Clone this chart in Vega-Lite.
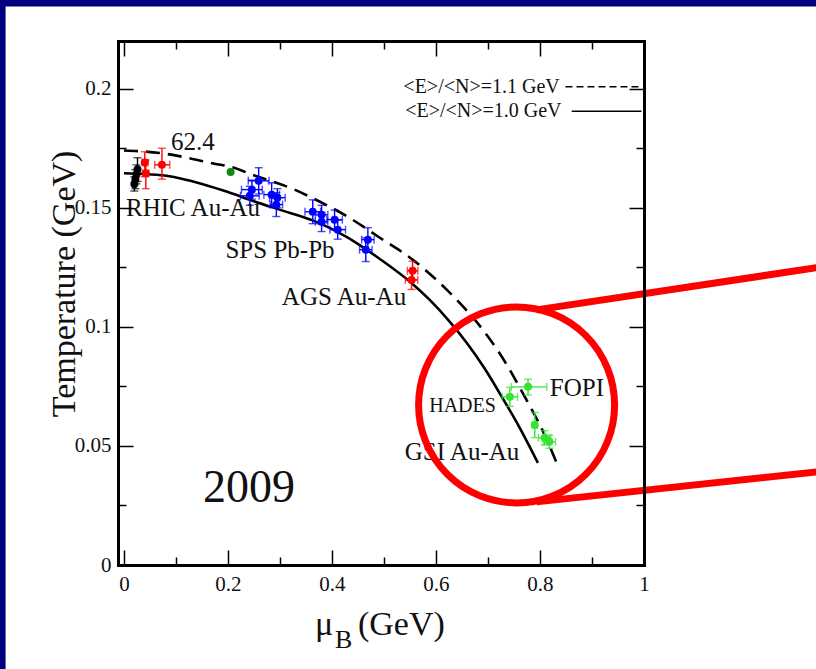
{
  "$schema": "https://vega.github.io/schema/vega-lite/v6.json",
  "width": 526,
  "height": 524,
  "autosize": {"type": "none"},
  "padding": {"left": 118, "top": 41, "right": 172, "bottom": 104},
  "background": "#000080",
  "config": {"view": {"stroke": null}, "font": "Liberation Serif", "text": {"font": "Liberation Serif", "color": "black"}},
  "resolve": {"axis": {"x": "independent", "y": "independent"}},
  "datasets": {
    "curves": [
      {"c": "1.0", "mu": 0.0, "T": 0.1645},
      {"c": "1.0", "mu": 0.04, "T": 0.1642},
      {"c": "1.0", "mu": 0.078, "T": 0.1635},
      {"c": "1.0", "mu": 0.111, "T": 0.1622},
      {"c": "1.0", "mu": 0.15, "T": 0.16},
      {"c": "1.0", "mu": 0.2, "T": 0.1566},
      {"c": "1.0", "mu": 0.25, "T": 0.1527},
      {"c": "1.0", "mu": 0.299, "T": 0.1492},
      {"c": "1.0", "mu": 0.363, "T": 0.1447},
      {"c": "1.0", "mu": 0.428, "T": 0.1378},
      {"c": "1.0", "mu": 0.492, "T": 0.1285},
      {"c": "1.0", "mu": 0.555, "T": 0.118},
      {"c": "1.0", "mu": 0.588, "T": 0.1113},
      {"c": "1.0", "mu": 0.625, "T": 0.1025},
      {"c": "1.0", "mu": 0.659, "T": 0.0933},
      {"c": "1.0", "mu": 0.692, "T": 0.083},
      {"c": "1.0", "mu": 0.722, "T": 0.0723},
      {"c": "1.0", "mu": 0.761, "T": 0.0576},
      {"c": "1.0", "mu": 0.796, "T": 0.0429},
      {"c": "1.1", "mu": 0.0, "T": 0.174},
      {"c": "1.1", "mu": 0.04, "T": 0.1736},
      {"c": "1.1", "mu": 0.078, "T": 0.1727},
      {"c": "1.1", "mu": 0.13, "T": 0.1706},
      {"c": "1.1", "mu": 0.174, "T": 0.1685},
      {"c": "1.1", "mu": 0.205, "T": 0.1672},
      {"c": "1.1", "mu": 0.251, "T": 0.1635},
      {"c": "1.1", "mu": 0.328, "T": 0.1576},
      {"c": "1.1", "mu": 0.363, "T": 0.154},
      {"c": "1.1", "mu": 0.428, "T": 0.1465},
      {"c": "1.1", "mu": 0.492, "T": 0.1374},
      {"c": "1.1", "mu": 0.555, "T": 0.1282},
      {"c": "1.1", "mu": 0.621, "T": 0.1155},
      {"c": "1.1", "mu": 0.64, "T": 0.1113},
      {"c": "1.1", "mu": 0.682, "T": 0.101},
      {"c": "1.1", "mu": 0.722, "T": 0.089},
      {"c": "1.1", "mu": 0.774, "T": 0.0693},
      {"c": "1.1", "mu": 0.809, "T": 0.0546},
      {"c": "1.1", "mu": 0.832, "T": 0.0429}
    ],
    "pts": [
      {"g": "black", "mu": 0.020, "T": 0.160, "xlo": 0.017, "xhi": 0.023, "ylo": 0.157, "yhi": 0.163},
      {"g": "black", "mu": 0.022, "T": 0.162, "xlo": 0.019, "xhi": 0.025, "ylo": 0.158, "yhi": 0.166},
      {"g": "black", "mu": 0.024, "T": 0.164, "xlo": 0.021, "xhi": 0.027, "ylo": 0.160, "yhi": 0.168},
      {"g": "black", "mu": 0.026, "T": 0.166, "xlo": 0.023, "xhi": 0.029, "ylo": 0.161, "yhi": 0.171},
      {"g": "red", "mu": 0.040, "T": 0.169, "xlo": 0.035, "xhi": 0.046, "ylo": 0.163, "yhi": 0.1735},
      {"g": "red", "mu": 0.042, "T": 0.1645, "xlo": 0.036, "xhi": 0.048, "ylo": 0.158, "yhi": 0.170},
      {"g": "red", "mu": 0.073, "T": 0.168, "xlo": 0.059, "xhi": 0.088, "ylo": 0.162, "yhi": 0.175},
      {"g": "dgreen", "mu": 0.205, "T": 0.165, "xlo": 0.205, "xhi": 0.205, "ylo": 0.165, "yhi": 0.165},
      {"g": "blue", "mu": 0.246, "T": 0.1576, "xlo": 0.226, "xhi": 0.266, "ylo": 0.1536, "yhi": 0.1616},
      {"g": "blue", "mu": 0.242, "T": 0.155, "xlo": 0.224, "xhi": 0.260, "ylo": 0.151, "yhi": 0.159},
      {"g": "blue", "mu": 0.259, "T": 0.1613, "xlo": 0.239, "xhi": 0.279, "ylo": 0.1558, "yhi": 0.1668},
      {"g": "blue", "mu": 0.284, "T": 0.1555, "xlo": 0.269, "xhi": 0.299, "ylo": 0.1505, "yhi": 0.1605},
      {"g": "blue", "mu": 0.295, "T": 0.1542, "xlo": 0.280, "xhi": 0.310, "ylo": 0.150, "yhi": 0.158},
      {"g": "blue", "mu": 0.293, "T": 0.1513, "xlo": 0.281, "xhi": 0.305, "ylo": 0.1463, "yhi": 0.1563},
      {"g": "blue", "mu": 0.363, "T": 0.1483, "xlo": 0.348, "xhi": 0.378, "ylo": 0.1433, "yhi": 0.1533},
      {"g": "blue", "mu": 0.380, "T": 0.147, "xlo": 0.368, "xhi": 0.392, "ylo": 0.143, "yhi": 0.151},
      {"g": "blue", "mu": 0.380, "T": 0.1441, "xlo": 0.368, "xhi": 0.392, "ylo": 0.140, "yhi": 0.148},
      {"g": "blue", "mu": 0.405, "T": 0.145, "xlo": 0.390, "xhi": 0.420, "ylo": 0.141, "yhi": 0.149},
      {"g": "blue", "mu": 0.411, "T": 0.1408, "xlo": 0.396, "xhi": 0.426, "ylo": 0.1368, "yhi": 0.1448},
      {"g": "blue", "mu": 0.469, "T": 0.1366, "xlo": 0.457, "xhi": 0.481, "ylo": 0.1316, "yhi": 0.1416},
      {"g": "blue", "mu": 0.465, "T": 0.1324, "xlo": 0.453, "xhi": 0.477, "ylo": 0.1274, "yhi": 0.1374},
      {"g": "red", "mu": 0.555, "T": 0.1235, "xlo": 0.545, "xhi": 0.565, "ylo": 0.1195, "yhi": 0.1275},
      {"g": "red", "mu": 0.553, "T": 0.1197, "xlo": 0.541, "xhi": 0.565, "ylo": 0.1157, "yhi": 0.1237},
      {"g": "green", "mu": 0.742, "T": 0.0706, "xlo": 0.727, "xhi": 0.757, "ylo": 0.0666, "yhi": 0.0746},
      {"g": "green", "mu": 0.777, "T": 0.0748, "xlo": 0.745, "xhi": 0.813, "ylo": 0.0714, "yhi": 0.078},
      {"g": "green", "mu": 0.790, "T": 0.0588, "xlo": 0.785, "xhi": 0.795, "ylo": 0.0535, "yhi": 0.064},
      {"g": "green", "mu": 0.809, "T": 0.0534, "xlo": 0.797, "xhi": 0.821, "ylo": 0.0504, "yhi": 0.0564},
      {"g": "green", "mu": 0.818, "T": 0.0517, "xlo": 0.806, "xhi": 0.830, "ylo": 0.049, "yhi": 0.0545}
    ],
    "labels": [
      {"t": "62.4", "mu": 0.1327, "T": 0.1778},
      {"t": "RHIC Au-Au", "mu": 0.1327, "T": 0.1499},
      {"t": "SPS Pb-Pb", "mu": 0.300, "T": 0.1323},
      {"t": "AGS Au-Au", "mu": 0.4231, "T": 0.1125},
      {"t": "FOPI", "mu": 0.871, "T": 0.0743},
      {"t": "GSI Au-Au", "mu": 0.650, "T": 0.0474}
    ],
    "legend": [
      {"t": "<E>/<N>=1.1 GeV", "mu": 0.838, "T": 0.2005},
      {"t": "<E>/<N>=1.0 GeV", "mu": 0.8415, "T": 0.1905}
    ]
  },
  "layer": [
    {
      "data": {"values": [{}]},
      "mark": {"type": "rect", "color": "white"},
      "encoding": {
        "x": {"datum": -0.2277, "type": "quantitative", "scale": {"domain": [-0.0115, 1], "nice": false, "zero": false}, "axis": null},
        "x2": {"datum": 1.36},
        "y": {"datum": 0.2345, "type": "quantitative", "scale": {"domain": [0, 0.22], "nice": false, "zero": false}, "axis": null},
        "y2": {"datum": -0.07}
      }
    },
    {
      "data": {"name": "curves"},
      "transform": [{"filter": "datum.c == '1.0'"}],
      "mark": {"type": "line", "color": "black", "strokeWidth": 2.6, "interpolate": "monotone"},
      "encoding": {
        "x": {"field": "mu", "type": "quantitative", "scale": {"domain": [-0.0115, 1], "nice": false, "zero": false},
          "axis": {"orient": "bottom", "values": [0, 0.2, 0.4, 0.6, 0.8, 1], "format": "~g", "ticks": false, "domain": false, "grid": false, "labelFont": "Liberation Serif", "labelFontSize": 21, "labelColor": "#111111", "labelPadding": 8, "labelFlush": false, "labelOverlap": false, "title": null, "zindex": 1}},
        "y": {"field": "T", "type": "quantitative", "scale": {"domain": [0, 0.22], "nice": false, "zero": false},
          "axis": {"orient": "left", "values": [0, 0.05, 0.1, 0.15, 0.2], "format": "~g", "ticks": false, "domain": false, "grid": false, "labelFont": "Liberation Serif", "labelFontSize": 21, "labelColor": "#111111", "labelPadding": 7, "labelFlush": false, "labelOverlap": false, "title": null, "zindex": 1}}
      }
    },
    {
      "data": {"name": "curves"},
      "transform": [{"filter": "datum.c == '1.1'"}],
      "mark": {"type": "line", "color": "black", "strokeWidth": 2.6, "strokeDash": [14, 8], "interpolate": "monotone"},
      "encoding": {
        "x": {"field": "mu", "type": "quantitative", "scale": {"domain": [-0.0115, 1], "nice": false, "zero": false},
          "axis": {"orient": "bottom", "values": [0, 0.1, 0.2, 0.3, 0.4, 0.5, 0.6, 0.7, 0.8, 0.9, 1], "labels": false, "title": null, "grid": false, "domain": true, "domainColor": "black", "domainWidth": 3, "domainCap": "square", "ticks": true, "tickColor": "black", "tickWidth": 1.5,
            "tickSize": {"condition": {"test": "datum.value == 0 || datum.value == 0.2 || datum.value == 0.4 || datum.value == 0.6 || datum.value == 0.8 || datum.value == 1", "value": -15}, "value": -8}, "zindex": 1}},
        "y": {"field": "T", "type": "quantitative", "scale": {"domain": [0, 0.22], "nice": false, "zero": false},
          "axis": {"orient": "left", "values": [0, 0.025, 0.05, 0.075, 0.1, 0.125, 0.15, 0.175, 0.2], "labels": false, "title": null, "grid": false, "domain": true, "domainColor": "black", "domainWidth": 3, "domainCap": "square", "ticks": true, "tickColor": "black", "tickWidth": 1.5,
            "tickSize": {"condition": {"test": "datum.value == 0 || datum.value == 0.05 || datum.value == 0.1 || datum.value == 0.15 || datum.value == 0.2", "value": -15}, "value": -8}, "zindex": 1}}
      }
    },
    {
      "data": {"name": "pts"},
      "transform": [{"filter": "datum.yhi > datum.ylo"}],
      "mark": {"type": "errorbar", "ticks": true, "size": 8, "thickness": 1.4},
      "encoding": {
        "x": {"field": "mu", "type": "quantitative", "scale": {"domain": [-0.0115, 1], "nice": false, "zero": false}, "axis": null},
        "y": {"field": "ylo", "type": "quantitative", "scale": {"domain": [0, 0.22], "nice": false, "zero": false}, "axis": null},
        "y2": {"field": "yhi"},
        "color": {"field": "g", "type": "nominal", "scale": {"domain": ["black", "red", "blue", "dgreen", "green"], "range": ["#000000", "#ff0000", "#0000ff", "#118811", "#33e433"]}, "legend": null}
      }
    },
    {
      "data": {"name": "pts"},
      "transform": [{"filter": "datum.xhi > datum.xlo"}],
      "mark": {"type": "errorbar", "ticks": true, "size": 8, "thickness": 1.4},
      "encoding": {
        "y": {"field": "T", "type": "quantitative", "scale": {"domain": [0, 0.22], "nice": false, "zero": false}, "axis": null},
        "x": {"field": "xlo", "type": "quantitative", "scale": {"domain": [-0.0115, 1], "nice": false, "zero": false}, "axis": null},
        "x2": {"field": "xhi"},
        "color": {"field": "g", "type": "nominal", "scale": {"domain": ["black", "red", "blue", "dgreen", "green"], "range": ["#000000", "#ff0000", "#0000ff", "#118811", "#33e433"]}, "legend": null}
      }
    },
    {
      "data": {"name": "pts"},
      "mark": {"type": "circle", "size": 64, "opacity": 1},
      "encoding": {
        "x": {"field": "mu", "type": "quantitative", "scale": {"domain": [-0.0115, 1], "nice": false, "zero": false},
          "axis": {"orient": "top", "values": [0, 0.1, 0.2, 0.3, 0.4, 0.5, 0.6, 0.7, 0.8, 0.9, 1], "labels": false, "title": null, "grid": false, "domain": true, "domainColor": "black", "domainWidth": 3, "domainCap": "square", "ticks": true, "tickColor": "black", "tickWidth": 1.5,
            "tickSize": {"condition": {"test": "datum.value == 0 || datum.value == 0.2 || datum.value == 0.4 || datum.value == 0.6 || datum.value == 0.8 || datum.value == 1", "value": -15}, "value": -8}, "zindex": 1}},
        "y": {"field": "T", "type": "quantitative", "scale": {"domain": [0, 0.22], "nice": false, "zero": false},
          "axis": {"orient": "right", "values": [0, 0.025, 0.05, 0.075, 0.1, 0.125, 0.15, 0.175, 0.2], "labels": false, "title": null, "grid": false, "domain": true, "domainColor": "black", "domainWidth": 3, "domainCap": "square", "ticks": true, "tickColor": "black", "tickWidth": 1.5,
            "tickSize": {"condition": {"test": "datum.value == 0 || datum.value == 0.05 || datum.value == 0.1 || datum.value == 0.15 || datum.value == 0.2", "value": -15}, "value": -8}, "zindex": 1}},
        "color": {"field": "g", "type": "nominal", "scale": {"domain": ["black", "red", "blue", "dgreen", "green"], "range": ["#000000", "#ff0000", "#0000ff", "#118811", "#22cc22"]}, "legend": null}
      }
    },
    {
      "data": {"name": "labels"},
      "mark": {"type": "text", "font": "Liberation Serif", "fontSize": 25, "align": "center", "baseline": "middle", "color": "#111111"},
      "encoding": {
        "x": {"field": "mu", "type": "quantitative", "scale": {"domain": [-0.0115, 1], "nice": false, "zero": false}, "axis": null},
        "y": {"field": "T", "type": "quantitative", "scale": {"domain": [0, 0.22], "nice": false, "zero": false}, "axis": null},
        "text": {"field": "t"}
      }
    },
    {
      "data": {"values": [{"t": "HADES", "mu": 0.651, "T": 0.0668}]},
      "mark": {"type": "text", "font": "Liberation Serif", "fontSize": 20, "align": "center", "baseline": "middle", "color": "#111111"},
      "encoding": {
        "x": {"field": "mu", "type": "quantitative", "scale": {"domain": [-0.0115, 1], "nice": false, "zero": false}, "axis": null},
        "y": {"field": "T", "type": "quantitative", "scale": {"domain": [0, 0.22], "nice": false, "zero": false}, "axis": null},
        "text": {"field": "t"}
      }
    },
    {
      "data": {"values": [{"t": "2009", "mu": 0.152, "T": 0.02645}]},
      "mark": {"type": "text", "font": "Liberation Serif", "fontSize": 46, "align": "left", "baseline": "alphabetic", "color": "#111111"},
      "encoding": {
        "x": {"field": "mu", "type": "quantitative", "scale": {"domain": [-0.0115, 1], "nice": false, "zero": false}, "axis": null},
        "y": {"field": "T", "type": "quantitative", "scale": {"domain": [0, 0.22], "nice": false, "zero": false}, "axis": null},
        "text": {"field": "t"}
      }
    },
    {
      "data": {"name": "legend"},
      "mark": {"type": "text", "font": "Liberation Serif", "fontSize": 20, "align": "right", "baseline": "middle", "color": "#111111"},
      "encoding": {
        "x": {"field": "mu", "type": "quantitative", "scale": {"domain": [-0.0115, 1], "nice": false, "zero": false}, "axis": null},
        "y": {"field": "T", "type": "quantitative", "scale": {"domain": [0, 0.22], "nice": false, "zero": false}, "axis": null},
        "text": {"field": "t"}
      }
    },
    {
      "data": {"values": [{}]},
      "mark": {"type": "rule", "color": "black", "strokeWidth": 1.3, "strokeDash": [7, 4]},
      "encoding": {
        "x": {"datum": 0.849, "type": "quantitative", "scale": {"domain": [-0.0115, 1], "nice": false, "zero": false}, "axis": null},
        "x2": {"datum": 0.995},
        "y": {"datum": 0.2008, "type": "quantitative", "scale": {"domain": [0, 0.22], "nice": false, "zero": false}, "axis": null}
      }
    },
    {
      "data": {"values": [{}]},
      "mark": {"type": "rule", "color": "black", "strokeWidth": 1.3},
      "encoding": {
        "x": {"datum": 0.861, "type": "quantitative", "scale": {"domain": [-0.0115, 1], "nice": false, "zero": false}, "axis": null},
        "x2": {"datum": 0.995},
        "y": {"datum": 0.1905, "type": "quantitative", "scale": {"domain": [0, 0.22], "nice": false, "zero": false}, "axis": null}
      }
    },
    {
      "data": {"values": [{"t": "μ", "mu": 0.3673, "T": -0.0294}, {"t": "(GeV)", "mu": 0.45, "T": -0.0294}]},
      "mark": {"type": "text", "font": "Liberation Serif", "fontSize": 34, "align": "left", "baseline": "alphabetic", "color": "#111111"},
      "encoding": {
        "x": {"field": "mu", "type": "quantitative", "scale": {"domain": [-0.0115, 1], "nice": false, "zero": false}, "axis": null},
        "y": {"field": "T", "type": "quantitative", "scale": {"domain": [0, 0.22], "nice": false, "zero": false}, "axis": null},
        "text": {"field": "t"}
      }
    },
    {
      "data": {"values": [{"t": "B", "mu": 0.4058, "T": -0.0348}]},
      "mark": {"type": "text", "font": "Liberation Serif", "fontSize": 26, "align": "left", "baseline": "alphabetic", "color": "#111111"},
      "encoding": {
        "x": {"field": "mu", "type": "quantitative", "scale": {"domain": [-0.0115, 1], "nice": false, "zero": false}, "axis": null},
        "y": {"field": "T", "type": "quantitative", "scale": {"domain": [0, 0.22], "nice": false, "zero": false}, "axis": null},
        "text": {"field": "t"}
      }
    },
    {
      "data": {"values": [{"t": "Temperature (GeV)", "mu": -0.095, "T": 0.118}]},
      "mark": {"type": "text", "font": "Liberation Serif", "fontSize": 34, "align": "center", "baseline": "alphabetic", "angle": 270, "color": "#111111"},
      "encoding": {
        "x": {"field": "mu", "type": "quantitative", "scale": {"domain": [-0.0115, 1], "nice": false, "zero": false}, "axis": null},
        "y": {"field": "T", "type": "quantitative", "scale": {"domain": [0, 0.22], "nice": false, "zero": false}, "axis": null},
        "text": {"field": "t"}
      }
    },
    {
      "data": {"values": [{}]},
      "mark": {"type": "point", "shape": "circle", "filled": false, "size": 38416, "stroke": "#ff0000", "strokeWidth": 7, "opacity": 1},
      "encoding": {
        "x": {"datum": 0.755, "type": "quantitative", "scale": {"domain": [-0.0115, 1], "nice": false, "zero": false}, "axis": null},
        "y": {"datum": 0.0672, "type": "quantitative", "scale": {"domain": [0, 0.22], "nice": false, "zero": false}, "axis": null}
      }
    },
    {
      "data": {"values": [{}]},
      "mark": {"type": "rule", "color": "#ff0000", "strokeWidth": 7},
      "encoding": {
        "x": {"datum": 0.793, "type": "quantitative", "scale": {"domain": [-0.0115, 1], "nice": false, "zero": false}, "axis": null},
        "x2": {"datum": 1.34},
        "y": {"datum": 0.1071, "type": "quantitative", "scale": {"domain": [0, 0.22], "nice": false, "zero": false}, "axis": null},
        "y2": {"datum": 0.1251}
      }
    },
    {
      "data": {"values": [{}]},
      "mark": {"type": "rule", "color": "#ff0000", "strokeWidth": 7},
      "encoding": {
        "x": {"datum": 0.793, "type": "quantitative", "scale": {"domain": [-0.0115, 1], "nice": false, "zero": false}, "axis": null},
        "x2": {"datum": 1.34},
        "y": {"datum": 0.0265, "type": "quantitative", "scale": {"domain": [0, 0.22], "nice": false, "zero": false}, "axis": null},
        "y2": {"datum": 0.0393}
      }
    }
  ]
}
